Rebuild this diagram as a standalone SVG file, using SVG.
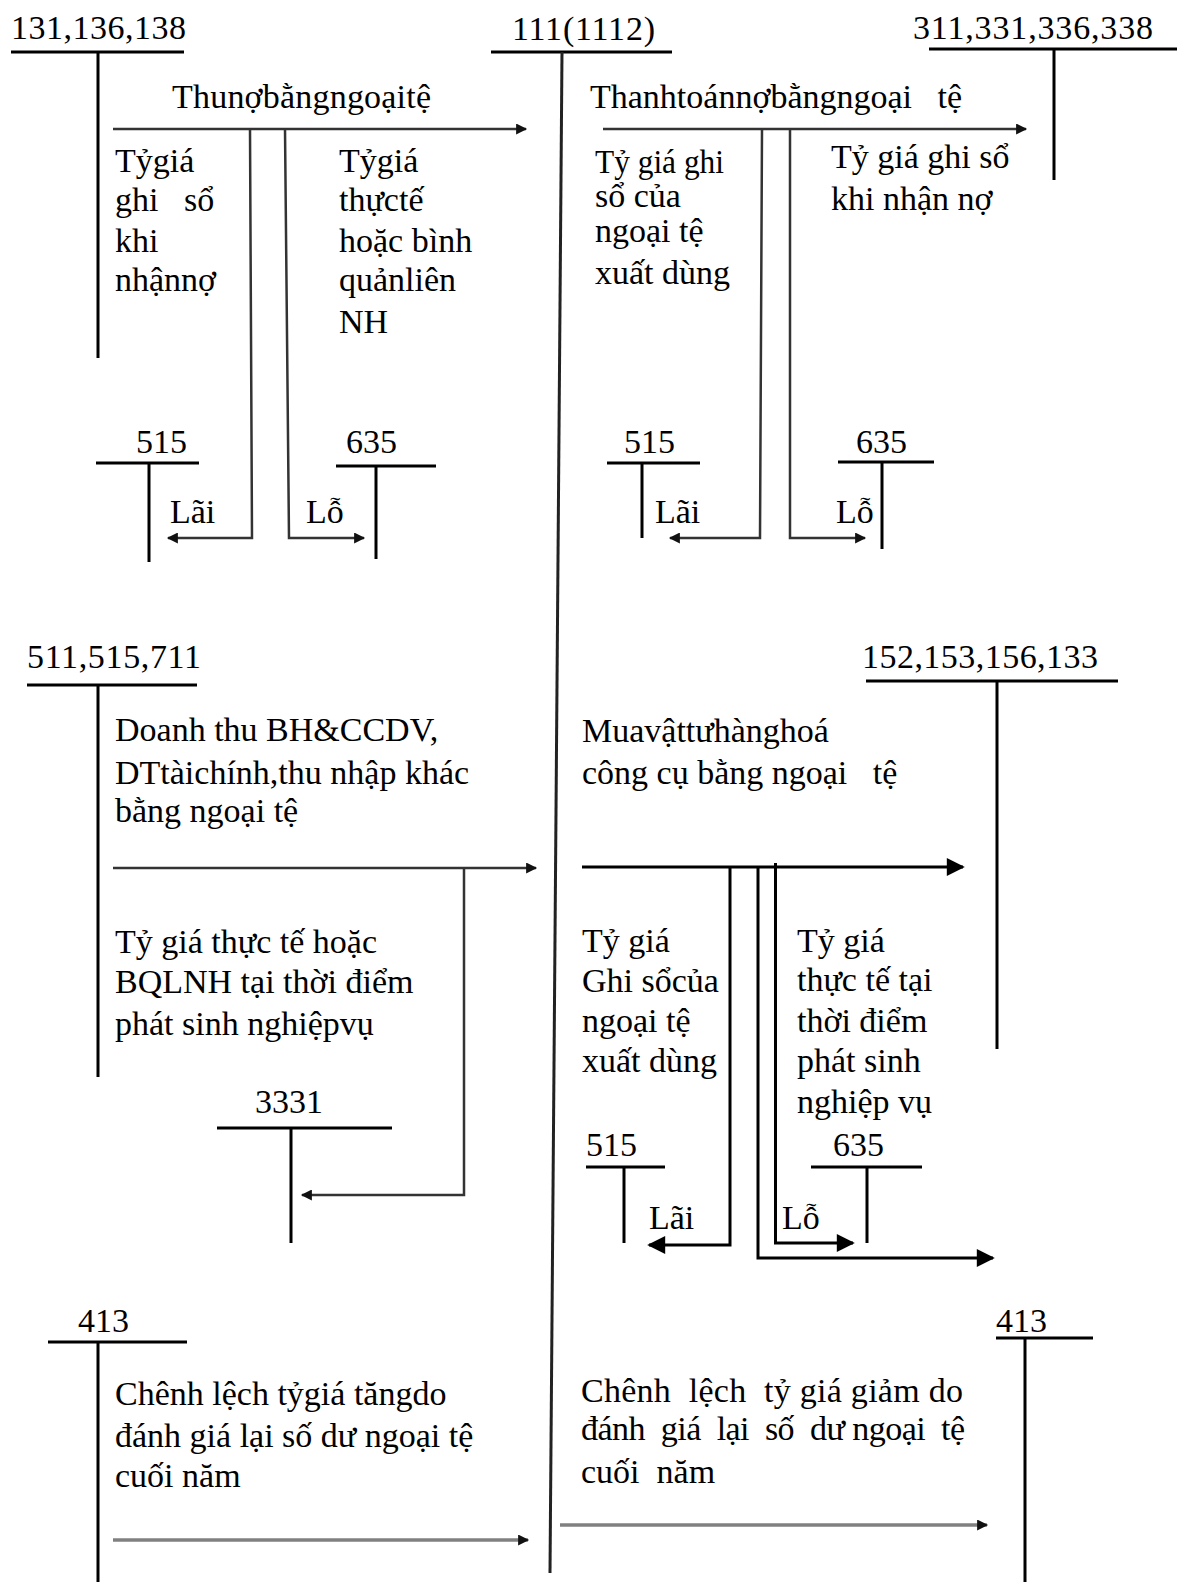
<svg xmlns="http://www.w3.org/2000/svg" width="1180" height="1582" viewBox="0 0 1180 1582">
<style>
.t{font-family:"Liberation Serif","Times New Roman",serif;font-size:34px;fill:#000}
.acc{stroke:#000;stroke-width:3;fill:none}
.arr{stroke:#333;stroke-width:2.5;fill:none}
.arrG{stroke:#808080;stroke-width:3.5;fill:none}
</style>
<defs>
<marker id="ah" viewBox="0 0 10 10" refX="9" refY="5" markerWidth="12" markerHeight="11" markerUnits="userSpaceOnUse" orient="auto"><path d="M0,0 L10,5 L0,10 z" fill="#111"/></marker>
<marker id="ahL" viewBox="0 0 10 10" refX="9" refY="5" markerWidth="20" markerHeight="18" markerUnits="userSpaceOnUse" orient="auto"><path d="M0,0 L10,5 L0,10 z" fill="#000"/></marker>
</defs>
<rect width="1180" height="1582" fill="#fff"/>

<g id="acc-131">
<text class="t" x="11" y="39" textLength="175" lengthAdjust="spacing">131,136,138</text>
<path class="acc" d="M11,52 H184 M98,52 V358"/>
</g>
<g id="acc-111">
<text class="t" x="512" y="40" textLength="143" lengthAdjust="spacing">111(1112)</text>
<path class="acc" d="M491,52 H672"/>
<path d="M562,52 L550,1573" stroke="#222" stroke-width="3" fill="none"/>
</g>
<g id="acc-311">
<text class="t" x="913" y="39" textLength="240" lengthAdjust="spacing">311,331,336,338</text>
<path class="acc" d="M929,49 H1177 M1054,49 V180"/>
</g>

<g id="lbl-thu-no">
<text class="t" x="172" y="108" textLength="259" lengthAdjust="spacing">Thunợbằngngoạitệ</text>
</g>
<g id="lbl-tygia-ghiso-1">
<text class="t" x="115" y="172">Tỷgiá</text>
<text class="t" x="115" y="211" xml:space="preserve">ghi   sổ</text>
<text class="t" x="115" y="252">khi</text>
<text class="t" x="115" y="291">nhậnnợ</text>
</g>
<g id="lbl-tygia-thucte-1">
<text class="t" x="339" y="172">Tỷgiá</text>
<text class="t" x="339" y="211">thựctế</text>
<text class="t" x="339" y="252">hoặc bình</text>
<text class="t" x="339" y="291">quảnliên</text>
<text class="t" x="339" y="333">NH</text>
</g>
<g id="acc-515-a">
<text class="t" x="136" y="453">515</text>
<path class="acc" d="M96,463 H199 M149,463 V562"/>
<text class="t" x="170" y="523">Lãi</text>
</g>
<g id="acc-635-a">
<text class="t" x="346" y="453">635</text>
<path class="acc" d="M336,466 H436 M376,466 V559"/>
<text class="t" x="306" y="523">Lỗ</text>
</g>

<g id="lbl-thanh-toan">
<text class="t" x="590" y="108" xml:space="preserve">Thanhtoánnợbằngngoại   tệ</text>
</g>
<g id="lbl-tygia-ghiso-2">
<text class="t" x="595" y="173" textLength="129" lengthAdjust="spacingAndGlyphs">Tỷ giá ghi</text>
<text class="t" x="595" y="207">sổ của</text>
<text class="t" x="595" y="242">ngoại tệ</text>
<text class="t" x="595" y="284">xuất dùng</text>
</g>
<g id="lbl-tygia-nhanno">
<text class="t" x="831" y="168">Tỷ giá ghi sổ</text>
<text class="t" x="831" y="210">khi nhận nợ</text>
</g>
<g id="acc-515-b">
<text class="t" x="624" y="453">515</text>
<path class="acc" d="M607,463 H700 M642,463 V538"/>
<text class="t" x="655" y="523">Lãi</text>
</g>
<g id="acc-635-b">
<text class="t" x="856" y="453">635</text>
<path class="acc" d="M838,462 H934 M882,462 V549"/>
<text class="t" x="836" y="523">Lỗ</text>
</g>

<g id="acc-511">
<text class="t" x="27" y="668" textLength="174" lengthAdjust="spacing">511,515,711</text>
<path class="acc" d="M27,685 H197 M98,685 V1077"/>
</g>
<g id="lbl-doanh-thu">
<text class="t" x="115" y="741">Doanh thu BH&amp;CCDV,</text>
<text class="t" x="115" y="784">DTtàichính,thu nhập khác</text>
<text class="t" x="115" y="822">bằng ngoại tệ</text>
</g>
<g id="lbl-tygia-bqlnh">
<text class="t" x="115" y="953">Tỷ giá thực tế hoặc</text>
<text class="t" x="115" y="993">BQLNH tại thời điểm</text>
<text class="t" x="115" y="1035">phát sinh nghiệpvụ</text>
</g>
<g id="acc-3331">
<text class="t" x="255" y="1113">3331</text>
<path class="acc" d="M217,1128 H392 M291,1128 V1243"/>
</g>

<g id="acc-152">
<text class="t" x="862" y="668" textLength="236" lengthAdjust="spacing">152,153,156,133</text>
<path class="acc" d="M866,681 H1118 M997,681 V1049"/>
</g>
<g id="lbl-mua-vat-tu">
<text class="t" x="582" y="742">Muavậttưhànghoá</text>
<text class="t" x="582" y="784" xml:space="preserve">công cụ bằng ngoại   tệ</text>
</g>
<g id="lbl-tygia-ghiso-3">
<text class="t" x="582" y="952">Tỷ giá</text>
<text class="t" x="582" y="992">Ghi sổcủa</text>
<text class="t" x="582" y="1032">ngoại tệ</text>
<text class="t" x="582" y="1072">xuất dùng</text>
</g>
<g id="lbl-tygia-thucte-3">
<text class="t" x="797" y="952">Tỷ giá</text>
<text class="t" x="797" y="991">thực tế tại</text>
<text class="t" x="797" y="1032">thời điểm</text>
<text class="t" x="797" y="1072">phát sinh</text>
<text class="t" x="797" y="1113">nghiệp vụ</text>
</g>
<g id="acc-515-c">
<text class="t" x="586" y="1156">515</text>
<path class="acc" d="M586,1167 H665 M624,1167 V1243"/>
<text class="t" x="649" y="1229">Lãi</text>
</g>
<g id="acc-635-c">
<text class="t" x="833" y="1156">635</text>
<path class="acc" d="M811,1167 H922 M867,1167 V1243"/>
<text class="t" x="782" y="1229">Lỗ</text>
</g>

<g id="acc-413-a">
<text class="t" x="78" y="1332">413</text>
<path class="acc" d="M48,1342 H187 M98,1342 V1582"/>
</g>
<g id="lbl-chenh-tang">
<text class="t" x="115" y="1405">Chênh lệch tỷgiá tăngdo</text>
<text class="t" x="115" y="1447">đánh giá lại số dư ngoại tệ</text>
<text class="t" x="115" y="1487">cuối năm</text>
</g>
<g id="acc-413-b">
<text class="t" x="996" y="1332">413</text>
<path class="acc" d="M996,1338 H1093 M1025,1338 V1582"/>
</g>
<g id="lbl-chenh-giam">
<text class="t" x="581" y="1402" xml:space="preserve" textLength="382" lengthAdjust="spacing">Chênh  lệch  tỷ giá giảm do</text>
<text class="t" x="581" y="1440" xml:space="preserve" textLength="384" lengthAdjust="spacing">đánh  giá  lại  số  dư ngoại  tệ</text>
<text class="t" x="581" y="1483" xml:space="preserve">cuối  năm</text>
</g>

<g id="connectors">
<path class="arr" d="M113,129 H526" marker-end="url(#ah)"/>
<path class="arr" d="M250,129 L252,538 H168" marker-end="url(#ah)"/>
<path class="arr" d="M285,129 L289,538 H364" marker-end="url(#ah)"/>
<path class="arr" d="M603,129 H1026" marker-end="url(#ah)"/>
<path class="arr" d="M762,129 L760,538 H670" marker-end="url(#ah)"/>
<path class="arr" d="M790,129 V538 H865" marker-end="url(#ah)"/>
<path class="arr" d="M113,868 H536" marker-end="url(#ah)"/>
<path class="arr" d="M464,868 V1195 H302" marker-end="url(#ah)"/>
<path class="acc" d="M582,867 H963" marker-end="url(#ahL)"/>
<path class="acc" d="M730,867 V1245 H649" marker-end="url(#ahL)"/>
<path class="acc" d="M775.5,863 V1243 H853" marker-end="url(#ahL)"/>
<path class="acc" d="M758,867 V1258 H993" marker-end="url(#ahL)"/>
<path class="arrG" d="M113,1540 H528" marker-end="url(#ah)"/>
<path class="arrG" d="M560,1525 H987" marker-end="url(#ah)"/>
</g>
</svg>
